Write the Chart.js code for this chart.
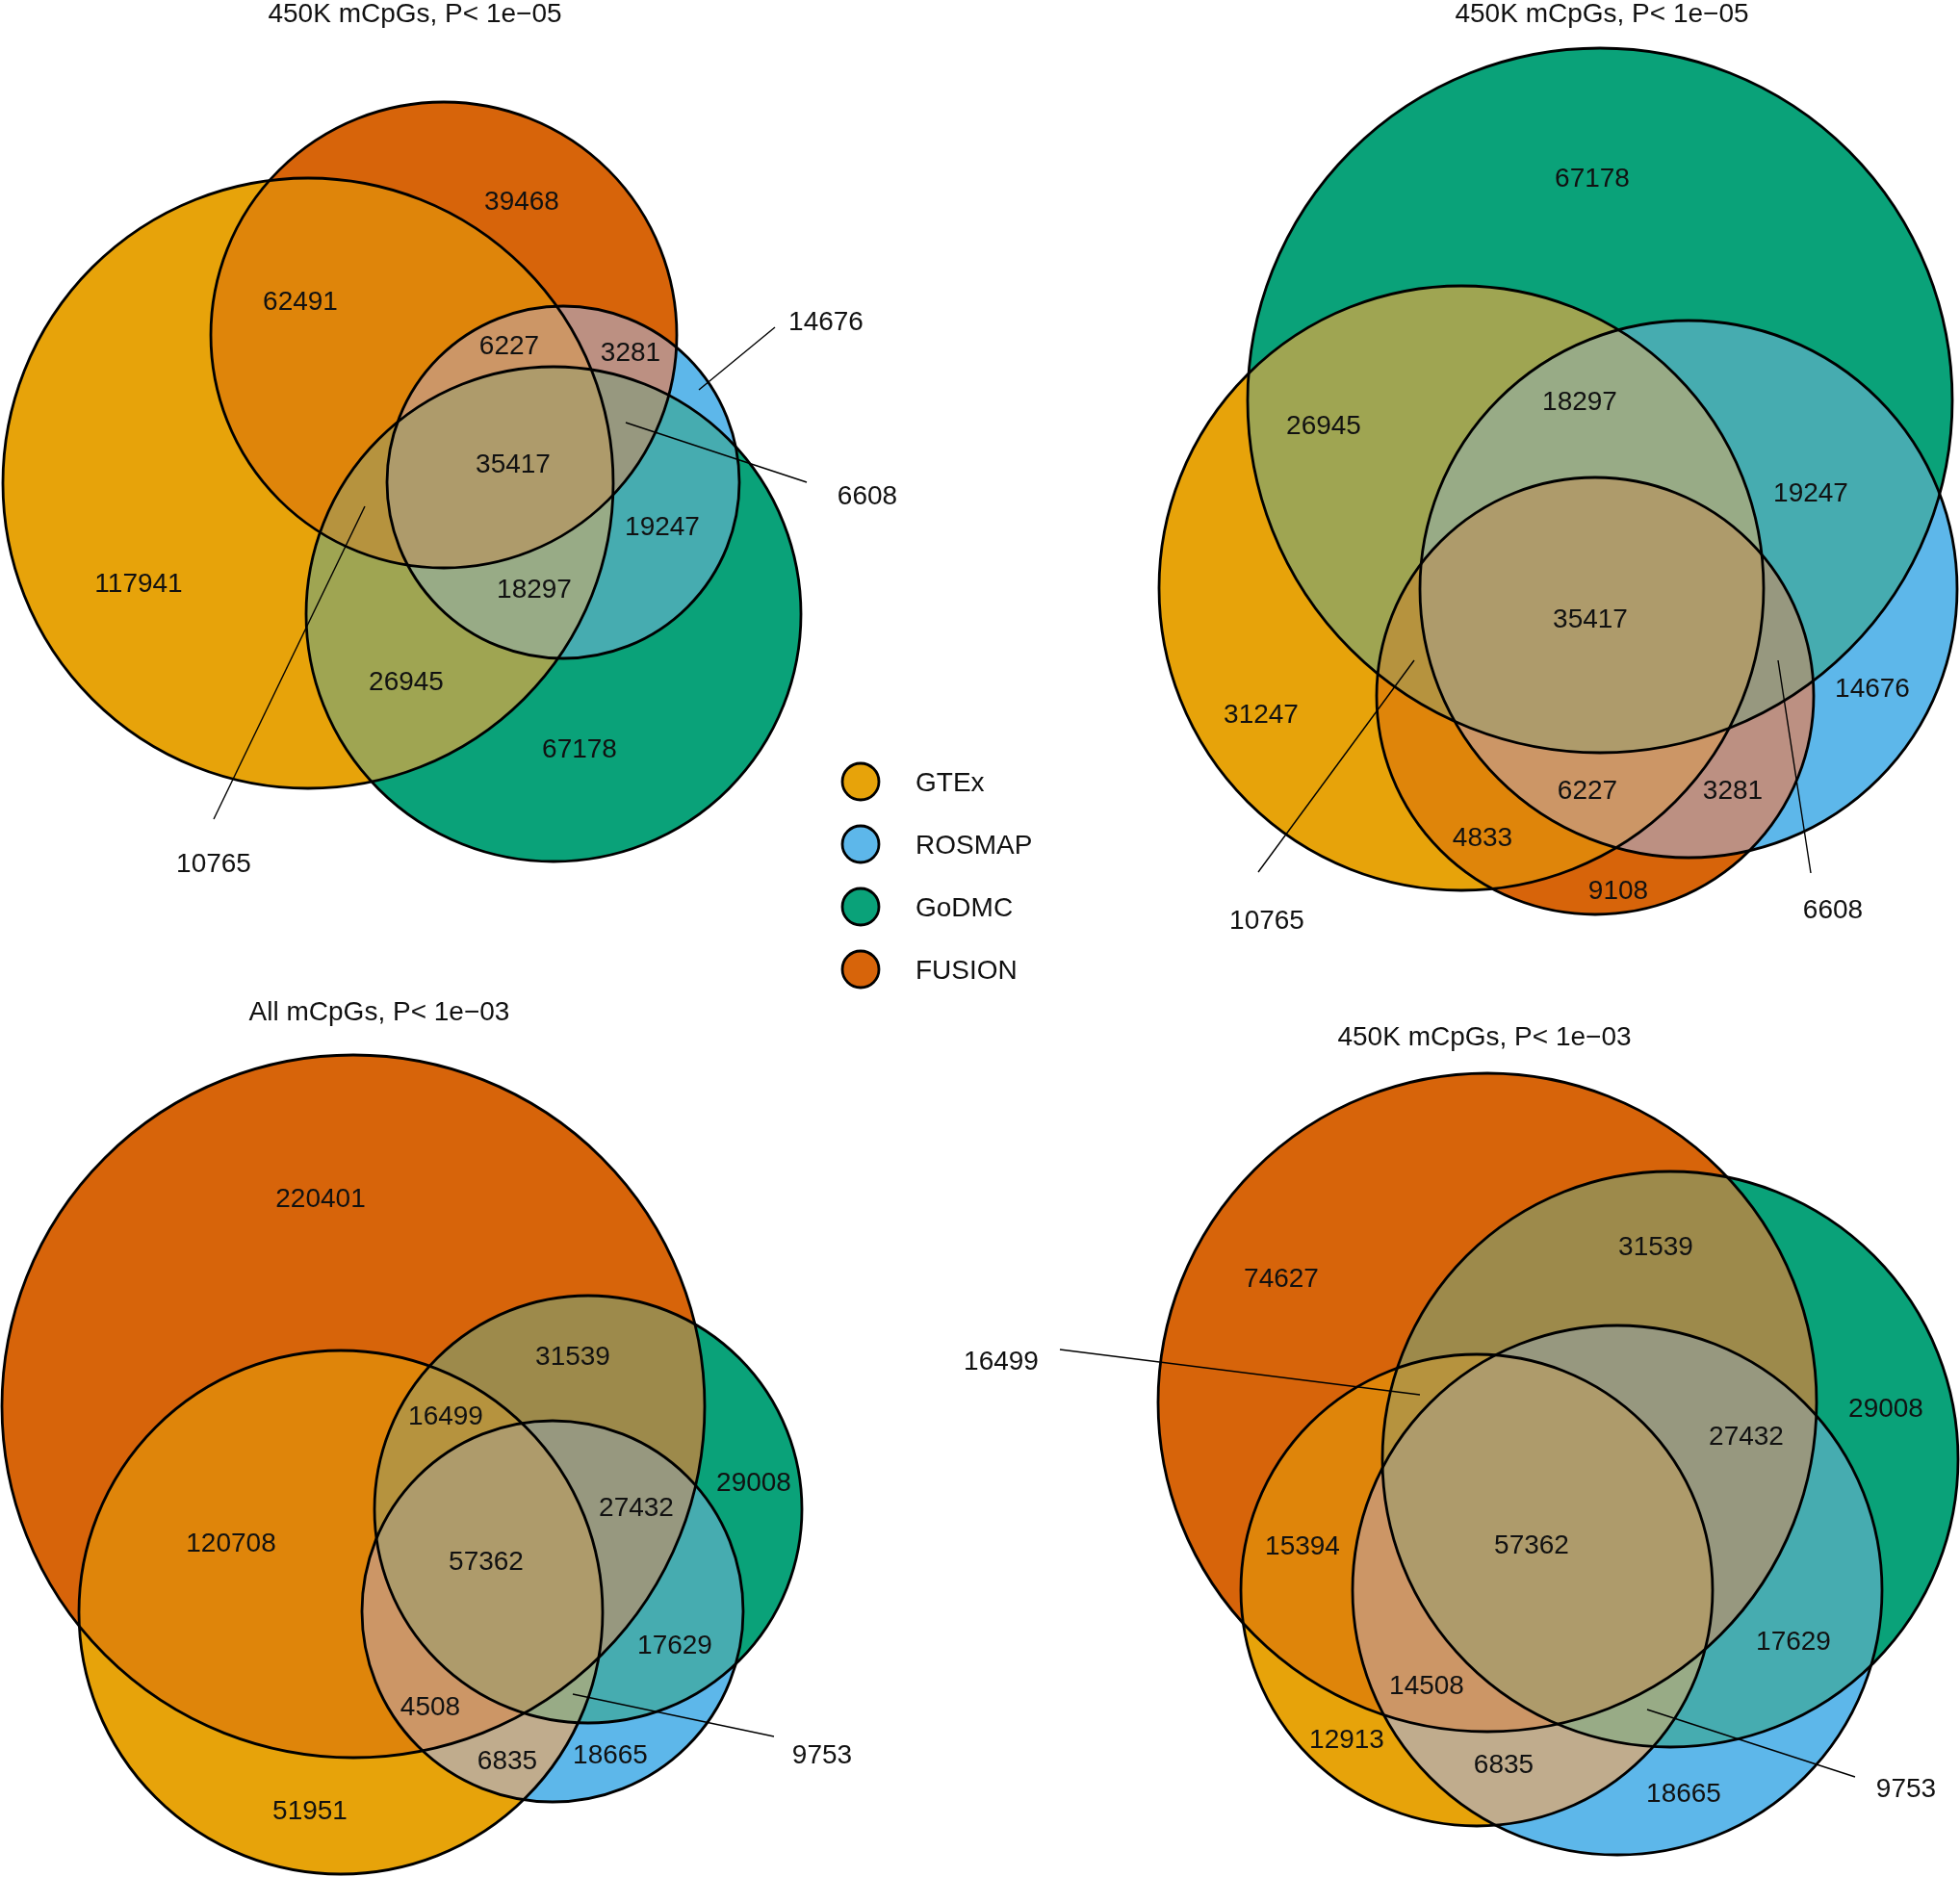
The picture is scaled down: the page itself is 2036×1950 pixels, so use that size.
<!DOCTYPE html>
<html>
<head>
<meta charset="utf-8">
<title>mCpG overlap - Euler diagrams</title>
<script src="https://cdn.jsdelivr.net/npm/chart.js@4.4.1/dist/chart.umd.min.js"></script>
<style>
  html, body { margin: 0; padding: 0; background: #fff; }
  #wrap { width: 2036px; height: 1950px; }
</style>
</head>
<body>
<div id="wrap"><canvas id="venn" width="2036" height="1950" style="width:2036px;height:1950px;"></canvas></div>
<script>
// ============================================================
// Euler diagrams of mCpG overlap between four studies
// coordinates are picture pixels (x: 0..2036, y: 0..1950)
// ============================================================

const setNames  = ['GTEx', 'ROSMAP', 'GoDMC', 'FUSION'];
const setColors = ['#E69F00', '#56B4E9', '#009E73', '#D55E00'];
const fillAlpha = 0.96; // fills sit very slightly washed out on white

const panelTitles = ['450K mCpGs, P< 1e\u221205', '450K mCpGs, P< 1e\u221205', 'All mCpGs, P< 1e\u221203', '450K mCpGs, P< 1e\u221203'];
const titleX = [431, 1664, 394, 1542];
const titleY = [13, 13, 1050, 1076];

// --- circles, one entry per panel ---
const gtexX   = [320, 1518, 354, 1534];
const gtexY   = [502, 611, 1675, 1652];
const gtexR   = [317, 314, 272, 245];

const rosmapX = [585, 1754, 574, 1680];
const rosmapY = [501, 612, 1674, 1652];
const rosmapR = [183, 279, 198, 275];

const godmcX  = [575, 1662, 611, 1735];
const godmcY  = [638, 416, 1568, 1516];
const godmcR  = [257, 366, 222, 299];

const fusionX = [461, 1657, 367, 1545];
const fusionY = [348, 723, 1461, 1457];
const fusionR = [242, 227, 365, 342];

// --- region counts ---
const p1Counts = ['39468', '62491', '6227', '3281', '35417', '19247', '117941', '18297', '26945', '67178', '14676', '6608', '10765'];
const p1X      = [542, 312, 529, 655, 533, 688, 144, 555, 422, 602, 858, 901, 222];
const p1Y      = [208, 312, 358, 365, 481, 546, 605, 611, 707, 777, 333, 514, 896];

const p2Counts = ['67178', '26945', '18297', '19247', '35417', '31247', '14676', '6227', '3281', '4833', '9108', '10765', '6608'];
const p2X      = [1654, 1375, 1641, 1881, 1652, 1310, 1945, 1649, 1800, 1540, 1681, 1316, 1904];
const p2Y      = [184, 441, 416, 511, 642, 741, 714, 820, 820, 869, 924, 955, 944];

const p3Counts = ['220401', '31539', '16499', '29008', '27432', '120708', '57362', '17629', '4508', '6835', '18665', '51951', '9753'];
const p3X      = [333, 595, 463, 783, 661, 240, 505, 701, 447, 527, 634, 322, 854];
const p3Y      = [1244, 1408, 1470, 1539, 1565, 1602, 1621, 1708, 1772, 1828, 1822, 1880, 1822];

const p4Counts = ['74627', '31539', '29008', '27432', '15394', '57362', '17629', '14508', '12913', '6835', '18665', '9753', '16499'];
const p4X      = [1331, 1720, 1959, 1814, 1353, 1591, 1863, 1482, 1399, 1562, 1749, 1980, 1040];
const p4Y      = [1327, 1294, 1462, 1491, 1605, 1604, 1704, 1750, 1806, 1832, 1862, 1857, 1413];

// --- leader lines for small regions ---
const leadFromX = [379, 726, 650, 1469, 1847, 595, 1101, 1711];
const leadFromY = [526, 405, 439, 686, 686, 1760, 1402, 1776];
const leadToX   = [222, 805, 838, 1307, 1881, 804, 1475, 1927];
const leadToY   = [851, 340, 501, 906, 907, 1804, 1449, 1846];

// --- legend ---
const legendX = [894, 894, 894, 894];
const legendY = [812, 877, 942, 1007];
const legendR = [19, 19, 19, 19];
const legendTextX = 951;

const FONT = '28px "Liberation Sans", Arial, Helvetica, sans-serif';

// ------------------------------------------------------------
// colour mixing in CIELab (intersections get the mean colour)
// ------------------------------------------------------------
function hexToRgb(h) {
    const n = parseInt(h.slice(1), 16);
    return [(n >> 16) & 255, (n >> 8) & 255, n & 255];
}

function rgbToLab(rgb) {
    const lin = c => { c /= 255; return c <= 0.04045 ? c / 12.92 : Math.pow((c + 0.055) / 1.055, 2.4); };
    const R = lin(rgb[0]), G = lin(rgb[1]), B = lin(rgb[2]);
    const X = (0.4124 * R + 0.3576 * G + 0.1805 * B) / 0.95047;
    const Y = (0.2126 * R + 0.7152 * G + 0.0722 * B);
    const Z = (0.0193 * R + 0.1192 * G + 0.9505 * B) / 1.08883;
    const f = t => t > 0.008856 ? Math.cbrt(t) : 7.787 * t + 16 / 116;
    const fx = f(X), fy = f(Y), fz = f(Z);
    return [116 * fy - 16, 500 * (fx - fy), 200 * (fy - fz)];
}

function labToRgb(lab) {
    const fy = (lab[0] + 16) / 116, fx = fy + lab[1] / 500, fz = fy - lab[2] / 200;
    const inv = t => (t * t * t > 0.008856) ? t * t * t : (t - 16 / 116) / 7.787;
    const X = inv(fx) * 0.95047, Y = inv(fy), Z = inv(fz) * 1.08883;
    const gam = c => {
        c = c <= 0.0031308 ? 12.92 * c : 1.055 * Math.pow(c, 1 / 2.4) - 0.055;
        return Math.round(Math.min(1, Math.max(0, c)) * 255);
    };
    return [
        gam(3.2406 * X - 1.5372 * Y - 0.4986 * Z),
        gam(-0.9689 * X + 1.8758 * Y + 0.0415 * Z),
        gam(0.0557 * X - 0.2040 * Y + 1.0570 * Z)
    ];
}

// blend with the white page
const onWhite = c => c.map(v => Math.round(v * fillAlpha + 255 * (1 - fillAlpha)));

function mixColors(idx) {
    const labs = idx.map(i => rgbToLab(hexToRgb(setColors[i])));
    const mean = [0, 1, 2].map(k => labs.reduce((s, l) => s + l[k], 0) / labs.length);
    const c = onWhite(labToRgb(mean));
    return `rgb(${c[0]},${c[1]},${c[2]})`;
}

// all non-empty subsets of the 4 sets, smallest first (painter's order)
const subsets = [];
for (let m = 1; m < 16; m++) {
    const s = [];
    for (let i = 0; i < 4; i++) if (m & (1 << i)) s.push(i);
    subsets.push(s);
}
subsets.sort((a, b) => a.length - b.length);
const subsetColors = subsets.map(mixColors);
const legendColors = setColors.map((c, i) => mixColors([i]));

// ------------------------------------------------------------
// plugins
// ------------------------------------------------------------
const regionFill = {
    id: 'regionFill',
    beforeDatasetsDraw(chart) {
        const ctx = chart.ctx;
        for (let p = 0; p < panelTitles.length; p++) {
            const circles = setNames.map((s, i) => {
                const el = chart.getDatasetMeta(i).data[p];
                return { x: el.x, y: el.y, r: el.options.radius };
            });
            subsets.forEach((sub, k) => {
                ctx.save();
                sub.forEach(i => {
                    ctx.beginPath();
                    ctx.arc(circles[i].x, circles[i].y, circles[i].r, 0, Math.PI * 2);
                    ctx.clip();
                });
                ctx.fillStyle = subsetColors[k];
                ctx.fillRect(0, 0, chart.width, chart.height);
                ctx.restore();
            });
        }
    }
};

const textLabels = {
    id: 'textLabels',
    afterDatasetsDraw(chart) {
        const ctx = chart.ctx;
        const xs = chart.scales.x, ys = chart.scales.y;
        const put = (txt, x, y, align) => {
            ctx.textAlign = align || 'center';
            // centre the digit height on y
            ctx.fillText(txt, xs.getPixelForValue(x), ys.getPixelForValue(y) + 10);
        };
        ctx.save();
        ctx.font = FONT;
        ctx.fillStyle = '#111';
        ctx.textBaseline = 'alphabetic';

        panelTitles.forEach((t, i) => put(t, titleX[i], titleY[i]));

        const panels = [[p1Counts, p1X, p1Y], [p2Counts, p2X, p2Y], [p3Counts, p3X, p3Y], [p4Counts, p4X, p4Y]];
        panels.forEach(([txt, px, py]) => txt.forEach((t, i) => put(t, px[i], py[i])));

        setNames.forEach((n, i) => put(n, legendTextX, legendY[i], 'left'));
        ctx.restore();
    }
};

// ------------------------------------------------------------
// datasets
// ------------------------------------------------------------
const circleX = [gtexX, rosmapX, godmcX, fusionX];
const circleY = [gtexY, rosmapY, godmcY, fusionY];
const circleR = [gtexR, rosmapR, godmcR, fusionR];

const datasets = [];

setNames.forEach((name, i) => {
    datasets.push({
        type: 'bubble',
        label: name,
        data: circleX[i].map((x, p) => ({ x: x, y: circleY[i][p], r: circleR[i][p] })),
        backgroundColor: 'rgba(0,0,0,0)',
        borderColor: '#000',
        borderWidth: 2.8,
        hoverRadius: 0,
        clip: false
    });
});

// leader lines
leadFromX.forEach((x0, i) => {
    datasets.push({
        type: 'scatter',
        label: 'lead' + i,
        data: [{ x: x0, y: leadFromY[i] }, { x: leadToX[i], y: leadToY[i] }],
        showLine: true,
        borderColor: '#000',
        borderWidth: 1.4,
        pointRadius: 0,
        clip: false
    });
});

// legend markers
datasets.push({
    type: 'bubble',
    label: 'legend',
    data: legendX.map((x, i) => ({ x: x, y: legendY[i], r: legendR[i] })),
    backgroundColor: legendColors,
    borderColor: '#000',
    borderWidth: 2.8,
    hoverRadius: 0,
    clip: false
});

new Chart(document.getElementById('venn'), {
    type: 'bubble',
    data: { datasets: datasets },
    options: {
        responsive: false,
        devicePixelRatio: 1,
        animation: false,
        events: [],
        layout: { padding: 0, autoPadding: false },
        scales: {
            x: { type: 'linear', min: 0, max: 2036, display: false },
            y: { type: 'linear', min: 0, max: 1950, reverse: true, display: false }
        },
        plugins: {
            legend: { display: false },
            tooltip: { enabled: false }
        }
    },
    plugins: [regionFill, textLabels]
});
</script>
</body>
</html>
